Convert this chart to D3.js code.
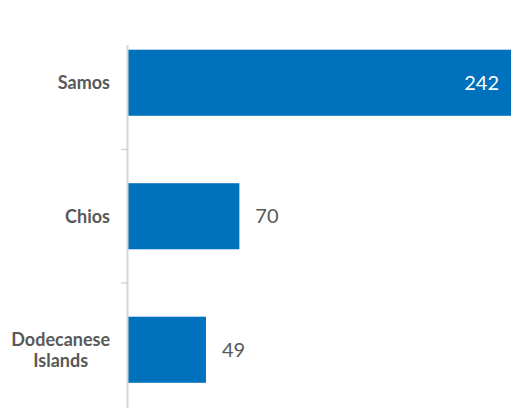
<!DOCTYPE html>
<html>
<head>
  <meta charset="utf-8">
  <script src="https://d3js.org/d3.v7.min.js"></script>
  <style>
    body { margin: 0; background: #fff; }
    text { font-family: Lato, sans-serif; }
  </style>
</head>
<body>
  <div id="chart"></div>
  <script>
    "use strict"

    var categorias = ["Samos", "Chios", "Dodecanese Islands"];
    var valores = [242, 70, 49];

    var largura = 511, altura = 408;
    var eixoX = 128;

    var svg = d3.select('#chart')
      .append('svg')
        .attr('width', largura)
        .attr('height', altura);

    var x = d3.scaleLinear()
      .domain([0, 242])
      .range([eixoX, 513]);

    var y = d3.scaleBand()
      .domain(categorias)
      .range([16, 416.5])
      .paddingInner(0.505)
      .paddingOuter(0.2525);

    // barras
    svg.selectAll('rect')
      .data(valores)
      .enter()
      .append('rect')
        .attr('x', x(0))
        .attr('y', (d, i) => y(categorias[i]))
        .attr('width', d => x(d) - x(0))
        .attr('height', y.bandwidth())
        .attr('fill', '#0071bc');

    // eixo vertical
    svg.append('line')
      .attr('x1', eixoX - 0.5).attr('x2', eixoX - 0.5)
      .attr('y1', 45).attr('y2', altura)
      .attr('stroke', '#d6d6d6')
      .attr('stroke-width', 2);

    // tracinhos entre as categorias
    var limites = categorias.slice(1).map(c => y(c) - y.step() * y.paddingInner() / 2);
    svg.selectAll('.tique')
      .data(limites)
      .enter()
      .append('line')
        .attr('x1', eixoX - 7).attr('x2', eixoX)
        .attr('y1', d => d).attr('y2', d => d)
        .attr('stroke', '#d6d6d6')
        .attr('stroke-width', 1.5);

    // rotulos das categorias (centralizados, borda direita em 110)
    var rotulos = svg.selectAll('.rotulo')
      .data(categorias)
      .enter()
      .append('text')
        .attr('text-anchor', 'middle')
        .attr('fill', '#595959')
        .style('font-size', '18px')
        .style('font-weight', 'bold')
        .attr('y', d => y(d) + y.bandwidth() / 2);

    rotulos.each(function(d) {
      var linhas = d === "Dodecanese Islands" ? ["Dodecanese", "Islands"] : [d];
      var t = d3.select(this);
      linhas.forEach(function(l, i) {
        t.append('tspan')
          .attr('dy', i === 0 ? (0.35 - (linhas.length - 1) * 0.585) + 'em' : '1.17em')
          .text(l);
      });
      var maior = d3.max(t.selectAll('tspan').nodes(), n => n.getComputedTextLength());
      t.selectAll('tspan').attr('x', 110 - maior / 2);
    });

    // valores
    svg.selectAll('.valor')
      .data(valores)
      .enter()
      .append('text')
        .attr('x', d => x(d) > 450 ? x(d) - 14 : x(d) + 16)
        .attr('y', (d, i) => y(categorias[i]) + y.bandwidth() / 2)
        .attr('dy', '0.35em')
        .attr('text-anchor', d => x(d) > 450 ? 'end' : 'start')
        .attr('fill', d => x(d) > 450 ? '#fff' : '#595959')
        .style('font-size', '20px')
        .text(d => d);
  </script>
</body>
</html>
